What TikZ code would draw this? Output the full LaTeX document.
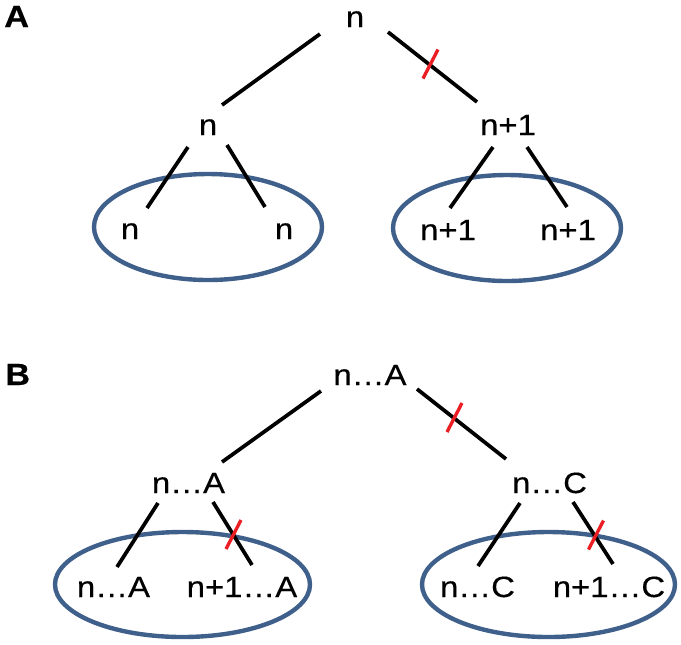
\documentclass[tikz,border=0pt]{standalone}
\usepackage{fontspec}
\setmainfont{Liberation Sans}[FakeStretch=1.12,FakeBold=0.4]
\begin{document}
\begin{tikzpicture}[x=0.75pt,y=-0.75pt,
  lbl/.style={inner sep=0pt,anchor=base,font=\fontsize{22}{26}\selectfont},
  panel/.style={inner sep=0pt,anchor=base west,font=\fontsize{23}{27}\selectfont\bfseries},
  edge/.style={line width=2.8pt,black},
  group/.style={line width=3.3pt,draw={rgb,255:red,64;green,96;blue,140}},
  redtick/.style={line width=2.5pt,draw={rgb,255:red,235;green,30;blue,35}}]
\useasboundingbox (0,0) rectangle (681,644);

% ---------------- Panel A ----------------
\node[panel] (labA) at (4,27) {A};
\node[lbl] (aTop) at (355,27) {n};
\node[lbl] (aL) at (208,135) {n};
\node[lbl] (aR) at (508,135) {n+1};
\node[lbl] (aLL) at (130,239) {n};
\node[lbl] (aLR) at (284,239) {n};
\node[lbl] (aRL) at (448,240) {n+1};
\node[lbl] (aRR) at (568,240) {n+1};

\draw[group] (208,227) ellipse [x radius=114, y radius=53];
\draw[group] (507,228) ellipse [x radius=114, y radius=53];

\coordinate (a1s) at (320,34);  \coordinate (a1e) at (222,105);
\coordinate (a2s) at (388,32);  \coordinate (a2e) at (477,102);
\coordinate (a3s) at (188,147); \coordinate (a3e) at (147,208);
\coordinate (a4s) at (227,145); \coordinate (a4e) at (265,207);
\coordinate (a5s) at (493,147); \coordinate (a5e) at (450,208);
\coordinate (a6s) at (527,147); \coordinate (a6e) at (567,207);
\draw[edge] (a1s) -- (a1e);
\draw[edge] (a2s) -- (a2e);
\draw[edge] (a3s) -- (a3e);
\draw[edge] (a4s) -- (a4e);
\draw[edge] (a5s) -- (a5e);
\draw[edge] (a6s) -- (a6e);
\coordinate (ta) at (430.5,64);
\draw[redtick] (ta) ++(-7.5,14.5) -- ++(15,-29);

% ---------------- Panel B ----------------
\node[panel] (labB) at (5,385) {B};
\node[lbl] (bTop) at (370,385) {n…A};
\node[lbl] (bL) at (188.5,493) {n…A};
\node[lbl] (bR) at (549.5,493) {n…C};
\node[lbl] (bLL) at (113.5,597) {n…A};
\node[lbl] (bLR) at (242,597) {n+1…A};
\node[lbl] (bRL) at (477.5,597) {n…C};
\node[lbl] (bRR) at (609,597) {n+1…C};

\draw[group] (182.5,584.5) ellipse [x radius=127.5, y radius=52.5];
\draw[group] (548.5,584.5) ellipse [x radius=126.5, y radius=52.5];

\coordinate (b1s) at (321,391); \coordinate (b1e) at (222,462);
\coordinate (b2s) at (417,389); \coordinate (b2e) at (506,459);
\coordinate (b3s) at (158,503); \coordinate (b3e) at (117,567);
\coordinate (b4s) at (213,502); \coordinate (b4e) at (252,565);
\coordinate (b5s) at (520,503); \coordinate (b5e) at (478,566);
\coordinate (b6s) at (573,502); \coordinate (b6e) at (613,564);
\draw[edge] (b1s) -- (b1e);
\draw[edge] (b2s) -- (b2e);
\draw[edge] (b3s) -- (b3e);
\draw[edge] (b4s) -- (b4e);
\draw[edge] (b5s) -- (b5e);
\draw[edge] (b6s) -- (b6e);
\coordinate (tb1) at (454.5,417.5);
\coordinate (tb2) at (233.5,534.5);
\coordinate (tb3) at (596,535);
\draw[redtick] (tb1) ++(-7.5,14.5) -- ++(15,-29);
\draw[redtick] (tb2) ++(-7.5,14.5) -- ++(15,-29);
\draw[redtick] (tb3) ++(-7.5,14.5) -- ++(15,-29);
\end{tikzpicture}
\end{document}
